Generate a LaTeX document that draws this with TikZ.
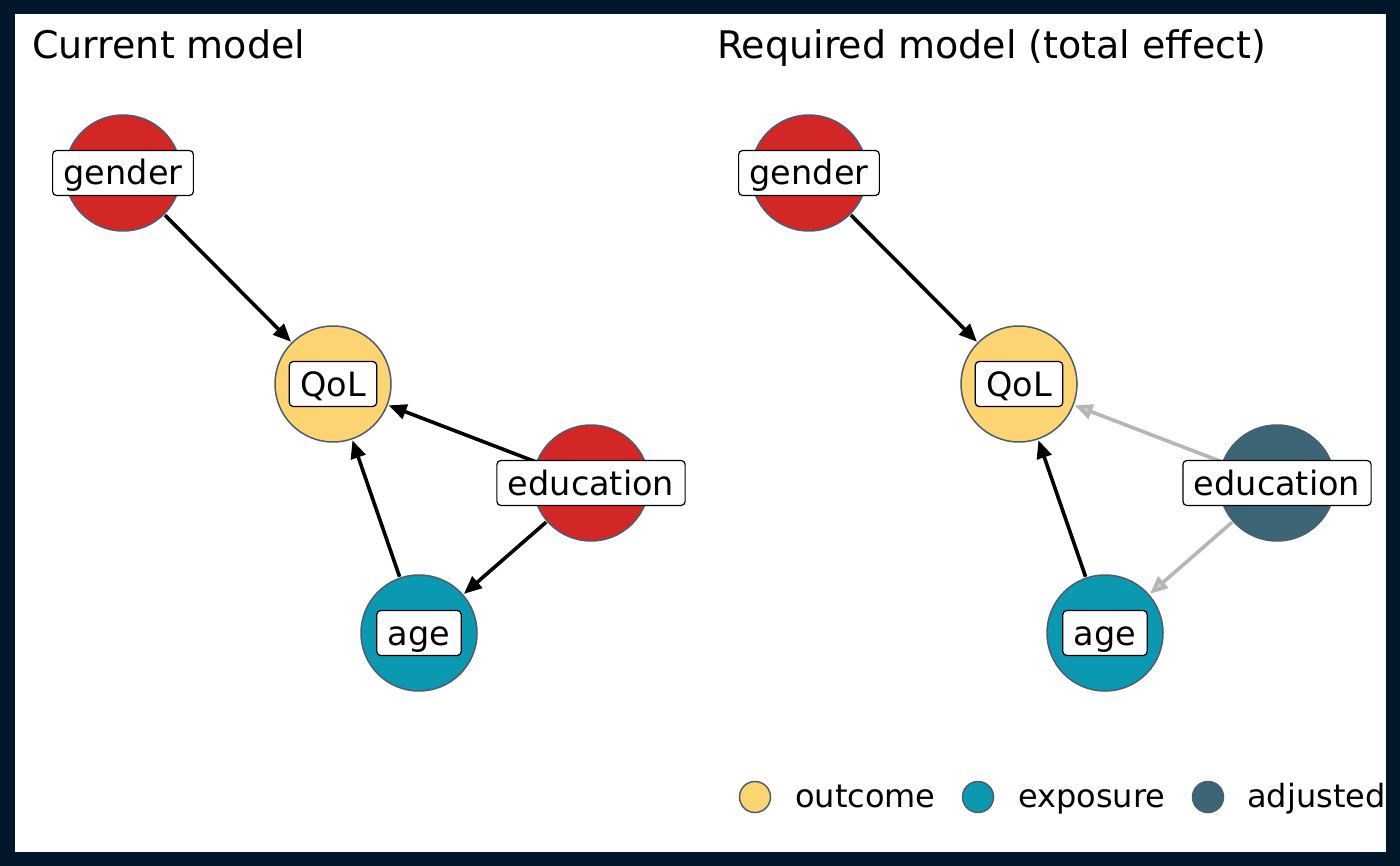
\documentclass[tikz,border=0pt]{standalone}
\usepackage{fontspec}
\setmainfont{DejaVu Sans}
\usetikzlibrary{arrows.meta}
\definecolor{dagred}{RGB}{211,39,39}
\definecolor{dagyellow}{RGB}{252,212,114}
\definecolor{dagteal}{RGB}{11,152,177}
\definecolor{dagslate}{RGB}{60,102,118}
\definecolor{dagrim}{RGB}{77,93,110}
\definecolor{fadegray}{RGB}{182,182,182}
\definecolor{framenavy}{RGB}{2,22,41}
\tikzstyle{dagnode} = [circle, draw=dagrim, line width=1.5pt, minimum size=116pt, inner sep=0pt, outer sep=1.5pt]
\tikzstyle{labelbox} = [rectangle, rounded corners=4pt, draw=black, fill=white, line width=1.2pt, font=\fontsize{33.5}{40}\selectfont, text height=28pt, text depth=4pt, inner xsep=11pt, inner ysep=6.5pt]
\tikzstyle{arrow} = [line width=3.6pt, -{Triangle[length=18pt,width=15pt]}]
\tikzstyle{fadedarrow} = [line width=3.6pt, color=fadegray, -{Triangle[length=18pt,width=15pt,fill=fadegray!70]}]
\tikzstyle{title} = [anchor=base west, inner sep=0pt, font=\fontsize{38}{44}\selectfont]
\tikzstyle{keytext} = [anchor=base west, inner sep=0pt, font=\fontsize{32}{38}\selectfont]
\tikzstyle{keydot} = [circle, draw=dagrim, line width=1.5pt, minimum size=31pt, inner sep=0pt]
\newcommand{\dagLabel}[3]
{
    \node (#1) [labelbox] at (#2) {#3};
}

\begin{document}
\begin{tikzpicture}[x=1pt,y=-1pt]
\useasboundingbox (0,0) rectangle (1400,866);
\fill[white] (0,0) rectangle (1400,866);

\node (title1) [title] at (32,59) {Current model};
\node (title2) [title] at (717,59) {Required model (total effect)};

\node (gender1) [dagnode, fill=dagred] at (123,173) {};
\node (qol1) [dagnode, fill=dagyellow] at (333,384) {};
\node (edu1) [dagnode, fill=dagred] at (591,483) {};
\node (age1) [dagnode, fill=dagteal] at (419,633) {};

\node (gender2) [dagnode, fill=dagred] at (809,173) {};
\node (qol2) [dagnode, fill=dagyellow] at (1019,384) {};
\node (edu2) [dagnode, fill=dagslate] at (1277,483) {};
\node (age2) [dagnode, fill=dagteal] at (1105,633) {};

\draw [arrow] (gender1) -- (qol1);
\draw [arrow] (edu1) -- (qol1);
\draw [arrow] (age1) -- (qol1);
\draw [arrow] (edu1) -- (age1);

\draw [arrow] (gender2) -- (qol2);
\draw [fadedarrow] (edu2) -- (qol2);
\draw [arrow] (age2) -- (qol2);
\draw [fadedarrow] (edu2) -- (age2);

\dagLabel{gender1l}{gender1.center}{gender}
\dagLabel{qol1l}{qol1.center}{QoL}
\dagLabel{edu1l}{edu1.center}{education}
\dagLabel{age1l}{age1.center}{age}

\dagLabel{gender2l}{gender2.center}{gender}
\dagLabel{qol2l}{qol2.center}{QoL}
\dagLabel{edu2l}{edu2.center}{education}
\dagLabel{age2l}{age2.center}{age}

\node (key1) [keydot, fill=dagyellow] at (755,797) {};
\node (key2) [keydot, fill=dagteal] at (978,797) {};
\node (key3) [keydot, fill=dagslate] at (1208,797) {};
\node (keytext1) [keytext] at (795,807) {outcome};
\node (keytext2) [keytext] at (1018,807) {exposure};
\node (keytext3) [keytext] at (1247,807) {adjusted};

\draw [framenavy, line width=14.5pt] (7.25,7.25) rectangle (1392.75,858.75);
\end{tikzpicture}
\end{document}
